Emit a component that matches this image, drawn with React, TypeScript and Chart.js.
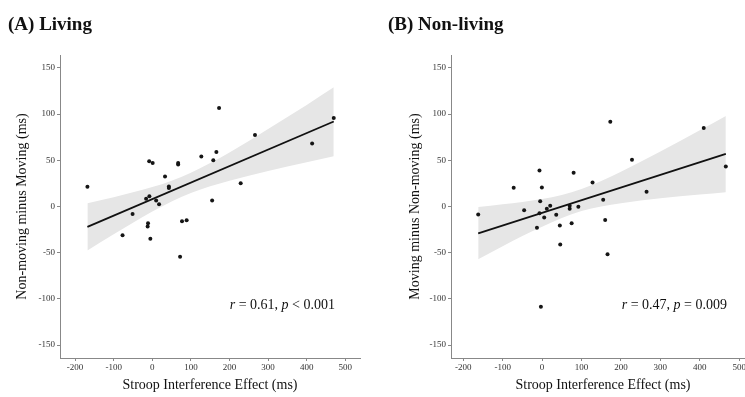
import React, { useEffect, useRef } from "react";
import { Chart, registerables } from "chart.js";

Chart.register(...registerables);

// ---------- data ----------
const xTicks = [-200, -100, 0, 100, 200, 300, 400, 500];
const yTicks = [-150, -100, -50, 0, 50, 100, 150];

// (A) Living: Stroop effect vs Non-moving minus Moving
const livingX = [-168, -77, -51, -16, -7.5, -11, -12, -5, -8, 1, 10, 17.6, 33, 43, 43, 67, 67, 77, 89, 72, 127, 155, 158, 166, 173, 229, 266, 414, 470];
const livingY = [21.3, -31, -8, 8.3, 11.2, -18, -21.7, -35, 49, 47, 6.5, 2.5, 32.5, 21.7, 20, 47, 45.5, -16, -15, -54.5, 54, 6.5, 50, 59, 106.6, 25.3, 77.3, 68.3, 95.7];
const livingLineX = [-168, 470];
const livingLineY = [-22, 92];
const livingBandX = [-168, -100, -50, 0, 50, 100, 150, 200, 300, 400, 470];
const livingBandLow = [-47.5, -30, -17.5, -5.5, 5.5, 14.5, 22, 28, 38.5, 48, 54.5];
const livingBandHigh = [3.5, 10, 15.5, 21, 28, 36.5, 47, 58.5, 84, 110, 129];

// (B) Non-living: Stroop effect vs Moving minus Non-moving
const nonLivingX = [-162, -72, -45.5, -6.6, -0.5, -4.8, -6.6, -13, 5.4, 12, 20.6, 35.9, 45, 46, 70, 70, 75, 92, 80, 128, 155, 160, 166, 173, 228, 265, 410, 466, -3];
const nonLivingY = [-8.7, 20.2, -4, 39, 20.6, 5.8, -7.2, -23, -12, -2.5, 0.7, -9, -20.6, -41, 0.7, -2.5, -18, -0.4, 36.5, 26, 7.2, -14.5, -51.7, 91.8, 50.6, 16, 85, 43.4, -108.4];
const nonLivingLineX = [-162, 466];
const nonLivingLineY = [-29, 57];
const nonLivingBandX = [-162, -100, -50, 0, 50, 100, 150, 200, 300, 400, 466];
const nonLivingBandLow = [-57, -43, -32, -22, -12.5, -5, 0, 3.5, 9, 13, 15.5];
const nonLivingBandHigh = [-0.5, 2.5, 5, 8, 12.5, 19, 27.5, 37.5, 59.5, 82.5, 98];

const SERIF = "'Liberation Serif', 'Times New Roman', serif";

type PanelProps = {
  left: number;
  width: number;
  padRight: number;
  xMin: number;
  xMax: number;
  yTitle: string;
  yTitlePad: number;
  xs: number[];
  ys: number[];
  lineX: number[];
  lineY: number[];
  bandX: number[];
  bandLow: number[];
  bandHigh: number[];
};

const toPts = (xs: number[], ys: number[]) => xs.map((x, i) => ({ x, y: ys[i] }));

function Panel(p: PanelProps) {
  const ref = useRef<HTMLCanvasElement | null>(null);
  useEffect(() => {
    if (!ref.current) return;
    const chart = new Chart(ref.current, {
      type: "line",
      data: {
        datasets: [
          {
            label: "points",
            data: toPts(p.xs, p.ys),
            showLine: false,
            pointRadius: 2,
            pointBackgroundColor: "#151515",
            pointBorderWidth: 0,
            order: 0,
          },
          {
            label: "fit",
            data: toPts(p.lineX, p.lineY),
            borderColor: "#111",
            borderWidth: 1.8,
            pointRadius: 0,
            fill: false,
            order: 1,
          },
          {
            label: "low",
            data: toPts(p.bandX, p.bandLow),
            borderWidth: 0,
            borderColor: "rgba(0,0,0,0)",
            pointRadius: 0,
            fill: false,
            cubicInterpolationMode: "monotone",
            order: 2,
          },
          {
            label: "high",
            data: toPts(p.bandX, p.bandHigh),
            borderWidth: 0,
            borderColor: "rgba(0,0,0,0)",
            backgroundColor: "#e6e6e6",
            pointRadius: 0,
            fill: "-1",
            cubicInterpolationMode: "monotone",
            order: 3,
          },
        ],
      },
      options: {
        animation: false,
        responsive: false,
        devicePixelRatio: 1,
        events: [],
        layout: { padding: { top: 55, right: p.padRight, left: 0, bottom: 0 } },
        plugins: {
          legend: { display: false },
          tooltip: { enabled: false },
          title: { display: false },
        },
        scales: {
          x: {
            type: "linear",
            min: p.xMin,
            max: p.xMax,
            afterBuildTicks: (s: any) => {
              s.ticks = xTicks.map((v) => ({ value: v }));
            },
            afterFit: (s: any) => {
              s.height = 39;
            },
            grid: { drawOnChartArea: false, drawTicks: true, tickLength: 3, color: "#888" },
            border: { color: "#888", width: 1 },
            ticks: {
              font: { family: SERIF, size: 9 },
              color: "#333",
              padding: 1,
              maxRotation: 0,
              autoSkip: false,
            },
            title: {
              display: true,
              text: "Stroop Interference Effect (ms)",
              font: { family: SERIF, size: 14 },
              color: "#111",
              padding: { top: 0, bottom: 3 },
            },
          },
          y: {
            type: "linear",
            min: -164,
            max: 164,
            afterBuildTicks: (s: any) => {
              s.ticks = yTicks.map((v) => ({ value: v }));
            },
            afterFit: (s: any) => {
              s.width = 60;
            },
            grid: { drawOnChartArea: false, drawTicks: true, tickLength: 3, color: "#888" },
            border: { color: "#888", width: 1 },
            ticks: {
              font: { family: SERIF, size: 9 },
              color: "#333",
              padding: 2,
              autoSkip: false,
            },
            title: {
              display: true,
              text: p.yTitle,
              font: { family: SERIF, size: 14 },
              color: "#111",
              padding: { top: p.yTitlePad, bottom: 0 },
            },
          },
        },
      },
    } as any);
    return () => chart.destroy();
  }, []);
  return (
    <canvas
      ref={ref}
      width={p.width}
      height={397}
      style={{ position: "absolute", left: p.left, top: 0, width: p.width, height: 397 }}
    />
  );
}

const titleStyle: React.CSSProperties = {
  position: "absolute",
  top: 14,
  fontFamily: SERIF,
  fontWeight: "bold",
  fontSize: 19,
  lineHeight: "19px",
  color: "#111",
  whiteSpace: "nowrap",
};

const statStyle: React.CSSProperties = {
  position: "absolute",
  top: 298,
  fontFamily: SERIF,
  fontSize: 14,
  lineHeight: "14px",
  color: "#111",
  whiteSpace: "nowrap",
};

export default function App() {
  return (
    <div
      style={{
        position: "fixed",
        left: 0,
        top: 0,
        width: 745,
        height: 397,
        overflow: "hidden",
        background: "#fff",
      }}
    >
      <Panel
        left={0}
        width={372}
        padRight={12}
        xMin={-239}
        xMax={538}
        yTitle="Non-moving minus Moving (ms)"
        yTitlePad={14}
        xs={livingX}
        ys={livingY}
        lineX={livingLineX}
        lineY={livingLineY}
        bandX={livingBandX}
        bandLow={livingBandLow}
        bandHigh={livingBandHigh}
      />
      <Panel
        left={391}
        width={376}
        padRight={12}
        xMin={-231}
        xMax={540}
        yTitle="Moving minus Non-moving (ms)"
        yTitlePad={16}
        xs={nonLivingX}
        ys={nonLivingY}
        lineX={nonLivingLineX}
        lineY={nonLivingLineY}
        bandX={nonLivingBandX}
        bandLow={nonLivingBandLow}
        bandHigh={nonLivingBandHigh}
      />
      <div style={{ ...titleStyle, left: 8 }}>(A) Living</div>
      <div style={{ ...titleStyle, left: 388 }}>(B) Non-living</div>
      <div style={{ ...statStyle, right: 745 - 335 }}>
        <i>r</i> = 0.61, <i>p</i> &lt; 0.001
      </div>
      <div style={{ ...statStyle, right: 745 - 727 }}>
        <i>r</i> = 0.47, <i>p</i> = 0.009
      </div>
    </div>
  );
}
